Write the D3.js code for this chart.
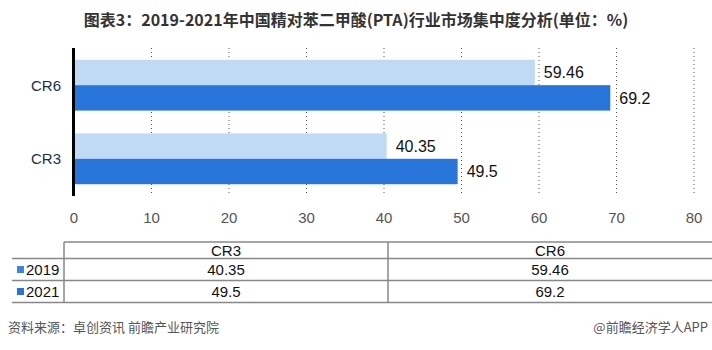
<!DOCTYPE html>
<html>
<head>
<meta charset="utf-8">
<script src="https://d3js.org/d3.v7.min.js"></script>
<style>
  body { margin: 0; background: #fff; }
  text { font-family: "Liberation Sans", Arial, sans-serif; }
</style>
</head>
<body>
<div id="chart"></div>
<script>
// data
const categories = ["CR6", "CR3"];
const years = ["2019", "2021"];
const values2019 = [59.46, 40.35];
const values2021 = [69.2, 49.5];
const xTicks = [0, 10, 20, 30, 40, 50, 60, 70, 80];
const tableCols = ["CR3", "CR6"];

const width = 712, height = 350;
const barColors = ["#c0d9f5", "#2775db"];
const legendColors = ["#3d83e3", "#2775db"];

const svg = d3.select("#chart").append("svg")
  .attr("width", width).attr("height", height);

// title
svg.append("text")
  .attr("x", 356).attr("y", 26)
  .attr("text-anchor", "middle")
  .style("font-family", "'Noto Sans CJK SC', sans-serif")
  .style("font-size", "16px").style("font-weight", "bold")
  .attr("fill", "#333")
  .text("图表3：2019-2021年中国精对苯二甲酸(PTA)行业市场集中度分析(单位：%)");

// scales
const x = d3.scaleLinear().domain([0, 80]).range([74, 694]);
const y = d3.scaleBand().domain(categories).range([48, 196]).paddingInner(0.31).paddingOuter(0.16);
const ySub = d3.scaleBand().domain(years).range([0, y.bandwidth()]);

// grid
svg.append("g").selectAll("line")
  .data(xTicks.filter(d => d > 0))
  .join("line")
  .attr("x1", d => x(d)).attr("x2", d => x(d))
  .attr("y1", 48).attr("y2", 196)
  .attr("stroke", "#555").attr("stroke-width", 1)
  .attr("stroke-dasharray", "1,3");

// bars
const series = [values2019, values2021];
const rows = [];
categories.forEach((c, i) => years.forEach((yr, j) => rows.push({ c, yr, j, v: series[j][i] })));

svg.append("g").selectAll("rect")
  .data(rows).join("rect")
  .attr("x", x(0))
  .attr("y", d => y(d.c) + ySub(d.yr))
  .attr("width", d => x(d.v) - x(0))
  .attr("height", ySub.bandwidth())
  .attr("fill", d => barColors[d.j]);

svg.append("g").selectAll("text")
  .data(rows).join("text")
  .attr("x", d => x(d.v) + 9)
  .attr("y", d => y(d.c) + ySub(d.yr) + ySub.bandwidth() / 2)
  .attr("dy", "0.36em")
  .style("font-size", "16px").attr("fill", "#111")
  .text(d => d.v);

// y axis
svg.append("line")
  .attr("x1", 73.5).attr("x2", 73.5).attr("y1", 48).attr("y2", 196)
  .attr("stroke", "#000").attr("stroke-width", 3);

svg.append("g").selectAll("text")
  .data(categories).join("text")
  .attr("x", 61)
  .attr("y", d => y(d) + y.bandwidth() / 2)
  .attr("dy", "0.36em")
  .attr("text-anchor", "end")
  .style("font-size", "15px").attr("fill", "#1e2f45")
  .text(d => d);

// x tick labels
svg.append("g").selectAll("text")
  .data(xTicks).join("text")
  .attr("x", d => x(d)).attr("y", 218)
  .attr("dy", "0.36em")
  .attr("text-anchor", "middle")
  .style("font-size", "15px").attr("fill", "#555")
  .text(d => d);

// data table
const colX = d3.scaleBand().domain(tableCols).range([64, 712]);
const rowY = [242, 258.5, 280.5, 302.5];
const grid = svg.append("g").attr("stroke", "#888").attr("stroke-width", 1.5);
grid.append("line").attr("x1", 64).attr("x2", 712).attr("y1", rowY[0]).attr("y2", rowY[0]);
rowY.slice(1).forEach(yy => grid.append("line").attr("x1", 12).attr("x2", 712).attr("y1", yy).attr("y2", yy));
[64, colX("CR6")].forEach(xx => grid.append("line").attr("x1", xx).attr("x2", xx).attr("y1", rowY[0]).attr("y2", rowY[3]));

svg.append("g").selectAll("text")
  .data(tableCols).join("text")
  .attr("x", d => colX(d) + colX.bandwidth() / 2)
  .attr("y", (rowY[0] + rowY[1]) / 2).attr("dy", "0.36em")
  .attr("text-anchor", "middle")
  .style("font-size", "15px").attr("fill", "#111")
  .text(d => d);

years.forEach((yr, j) => {
  const cy = (rowY[j + 1] + rowY[j + 2]) / 2;
  svg.append("rect").attr("x", 17).attr("y", cy - 3.5).attr("width", 7).attr("height", 7)
    .attr("fill", legendColors[j]);
  svg.append("text").attr("x", 26).attr("y", cy).attr("dy", "0.36em")
    .style("font-size", "15px").attr("fill", "#111").text(yr);
  tableCols.forEach(c => {
    const i = categories.indexOf(c);
    svg.append("text")
      .attr("x", colX(c) + colX.bandwidth() / 2).attr("y", cy).attr("dy", "0.36em")
      .attr("text-anchor", "middle")
      .style("font-size", "15px").attr("fill", "#111")
      .text(series[j][i]);
  });
});

// footer
svg.append("text").attr("x", 8).attr("y", 332)
  .style("font-family", "'Noto Sans CJK SC', sans-serif")
  .style("font-size", "13px").attr("fill", "#555")
  .text("资料来源：卓创资讯 前瞻产业研究院");
svg.append("text").attr("x", 708).attr("y", 332)
  .attr("text-anchor", "end")
  .style("font-family", "'Noto Sans CJK SC', sans-serif")
  .style("font-size", "13px").attr("fill", "#555")
  .text("@前瞻经济学人APP");
</script>
</body>
</html>
